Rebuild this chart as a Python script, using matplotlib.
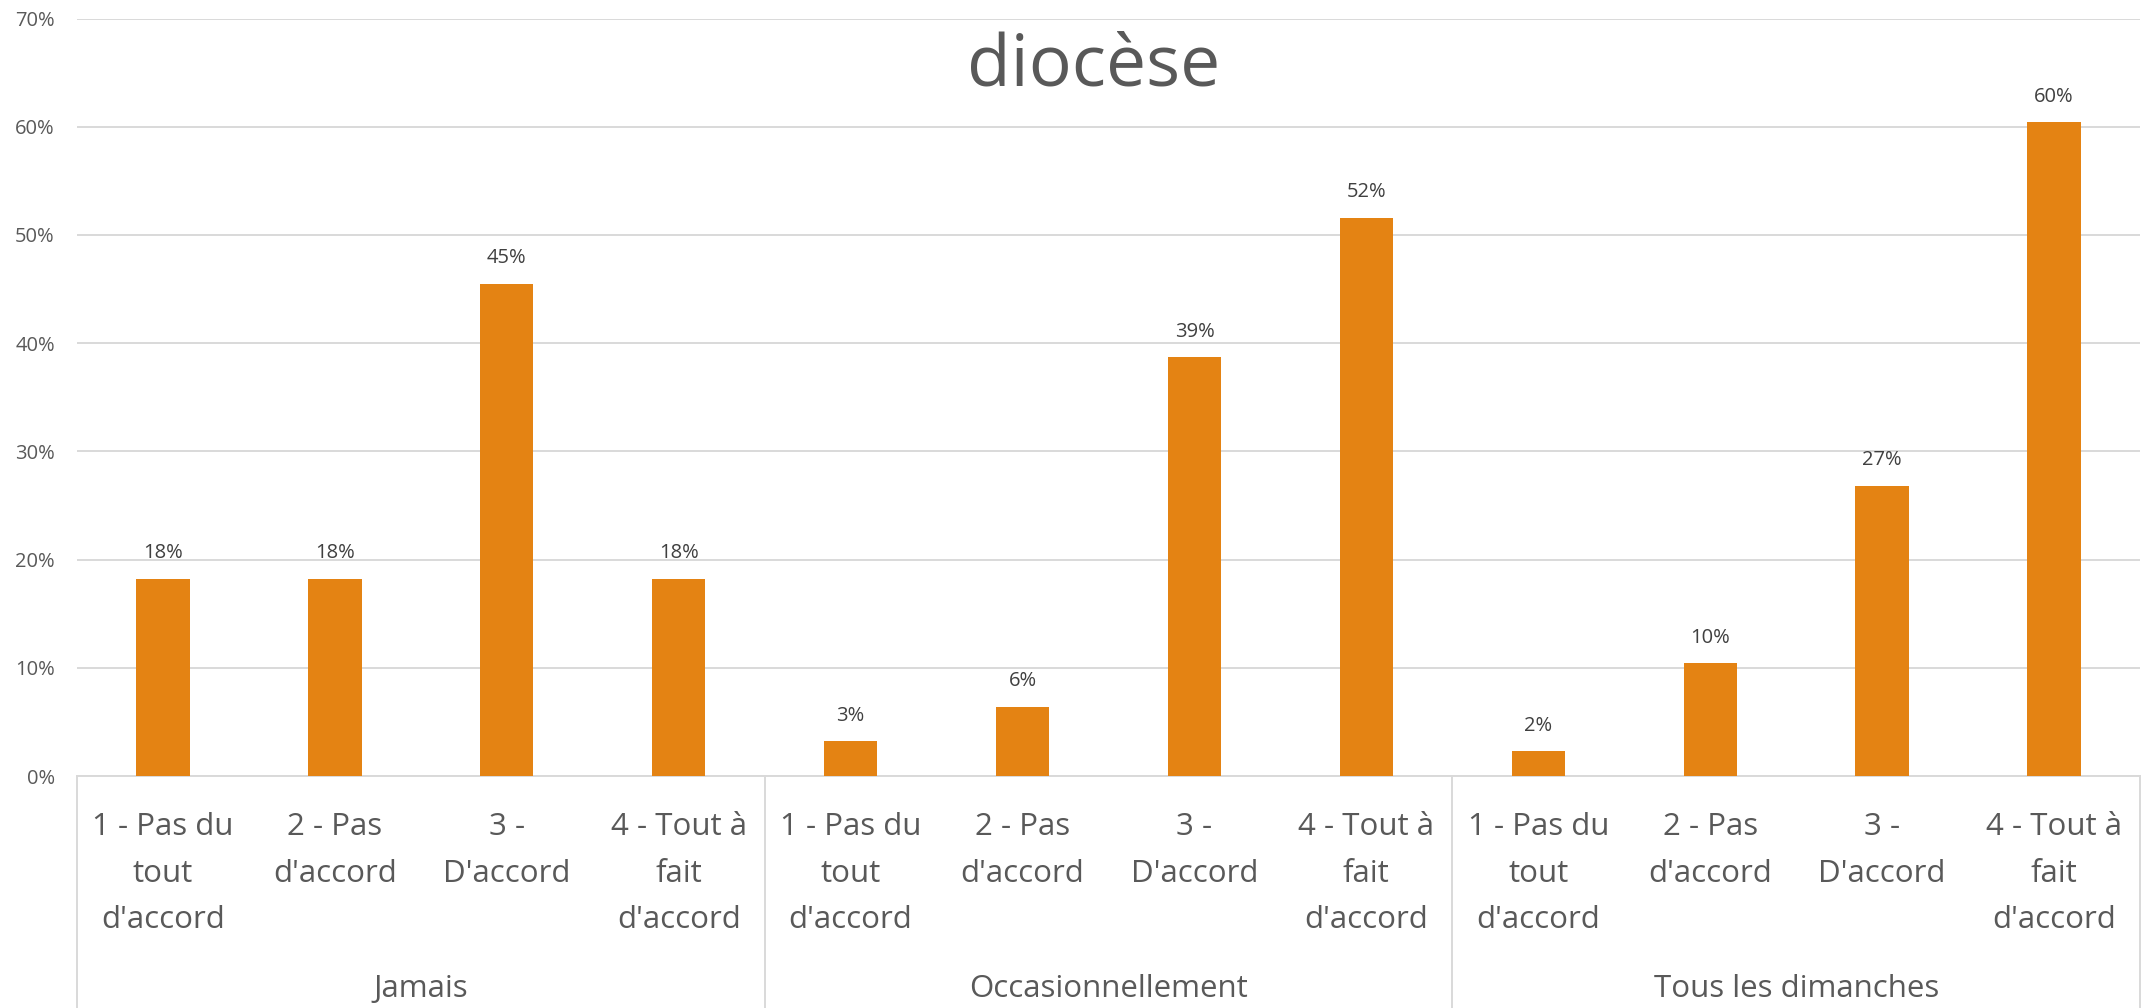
import matplotlib.pyplot as plt
from matplotlib.ticker import PercentFormatter

plt.rcParams['font.family'] = ['Open Sans', 'DejaVu Sans']

groups = ['Jamais', 'Occasionnellement', 'Tous les dimanches']
answers = ["1 - Pas du\ntout\nd'accord", "2 - Pas\nd'accord", "3 -\nD'accord", "4 - Tout à\nfait\nd'accord"]
values_jamais = [0.182, 0.182, 0.455, 0.182]
values_occasion = [0.032, 0.064, 0.387, 0.516]
values_dimanches = [0.023, 0.104, 0.268, 0.604]
value_labels = ['18%', '18%', '45%', '18%', '3%', '6%', '39%', '52%', '2%', '10%', '27%', '60%']

values = values_jamais + values_occasion + values_dimanches
labels = answers * 3
x = list(range(len(values)))

fig = plt.figure(figsize=(21.46, 10.08), dpi=100)
ax = fig.add_axes([77 / 2146, 232 / 1008, (2140 - 77) / 2146, (776 - 18.5) / 1008])

bars = ax.bar(x, values, width=0.31, color='#E48313', zorder=3)
for b, lab in zip(bars, value_labels):
    ax.annotate(lab, (b.get_x() + b.get_width() / 2, b.get_height()),
                xytext=(0, 18.4), textcoords='offset points',
                ha='center', va='center', fontsize=14.5, color='#404040')

ax.set_xlim(-0.5, len(values) - 0.5)
ax.set_ylim(0, 0.7)
ax.set_yticks([i / 10 for i in range(8)])
ax.yaxis.set_major_formatter(PercentFormatter(1.0, decimals=0))
ax.grid(axis='y', color='#d9d9d9', linewidth=1.4, zorder=0)
ax.tick_params(axis='y', length=0, pad=16, labelsize=14.5, labelcolor='#595959')

ax.set_xticks(x)
ax.set_xticklabels(labels, fontsize=22.5, color='#595959', linespacing=1.72)
ax.tick_params(axis='x', length=0, pad=26)

for s in ['top', 'right', 'left']:
    ax.spines[s].set_visible(False)
ax.spines['bottom'].set_color('#d9d9d9')
ax.spines['bottom'].set_linewidth(1.4)

# group separators + group names under the axis
xt = ax.get_xaxis_transform()
for k in range(len(groups) + 1):
    xs = k * 4 - 0.5
    ax.plot([xs, xs], [0, -0.31], color='#d9d9d9', linewidth=1.4,
            transform=xt, clip_on=False)
for k, g in enumerate(groups):
    ax.text(k * 4 + 1.5, -0.2917, g, transform=xt, ha='center', va='baseline',
            fontsize=22.5, color='#595959')

fig.text(1094 / 2146, (1008 - 86) / 1008, 'diocèse', ha='center', va='baseline',
         fontsize=51.4, color='#595959')

plt.savefig('out.png')
